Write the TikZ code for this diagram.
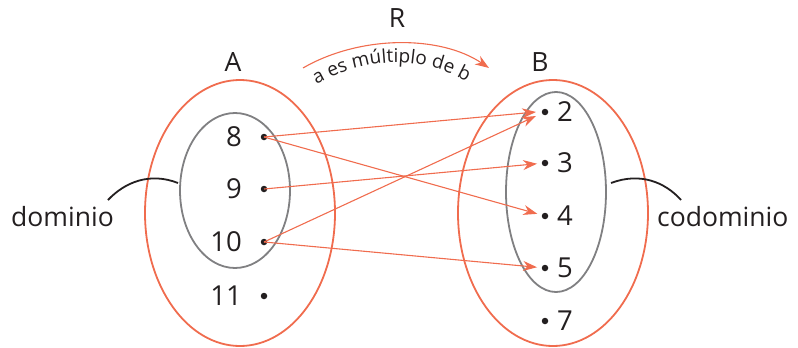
\documentclass[tikz,border=0pt]{standalone}
\usepackage{fontspec}
\setmainfont{Open Sans}
\usetikzlibrary{arrows.meta,decorations.text}
\definecolor{rorange}{RGB}{240,108,78}
\definecolor{rgray}{RGB}{128,128,130}
\definecolor{rtext}{RGB}{35,31,32}
\tikzset{
  setA/.style={draw=rorange,line width=1.8pt},
  subset/.style={draw=rgray,line width=1.8pt},
  pt/.style={circle,fill=rtext,inner sep=0pt,minimum size=6.5pt},
  num/.style={text=rtext,font=\fontsize{27.5}{27.5}\selectfont,inner sep=0pt},
  lbl/.style={text=rtext,font=\fontsize{26.5}{26.5}\selectfont,inner sep=0pt},
  rel/.style={draw=rorange,line width=1.1pt,-{Stealth[length=14pt,width=10pt]}},
  brace/.style={draw=rtext,line width=1.8pt}
}
\begin{document}
\begin{tikzpicture}[x=1pt,y=-1pt]
\useasboundingbox (0,0) rectangle (798,348);
% sets
\draw[setA] (240,213) ellipse [x radius=95, y radius=133];
\draw[subset] (235,190.5) ellipse [x radius=55, y radius=77.5];
\draw[setA] (553,213) ellipse [x radius=95, y radius=133];
\draw[subset] (556,192) ellipse [x radius=50, y radius=100];
% set names
\node[lbl] (nA) at (233,62) {A};
\node[lbl] (nB) at (540,62) {B};
\node[lbl] (nR) at (397,18) {R};
% domain points
\node[pt] (p8) at (264,137) {};
\node[pt] (p9) at (264,189) {};
\node[pt] (p10) at (264,242) {};
\node[pt] (p11) at (264,296) {};
\node[num,anchor=east] (l8) at (242,137) {8};
\node[num,anchor=east] (l9) at (242,189) {9};
\node[num,anchor=east] (l10) at (242,242) {10};
\node[num,anchor=east] (l11) at (242,296) {11};
% codomain points
\node[pt] (q2) at (545,112) {};
\node[pt] (q3) at (545,163) {};
\node[pt] (q4) at (545,216) {};
\node[pt] (q5) at (545,268) {};
\node[pt] (q7) at (545,321) {};
\node[num,anchor=west] (m2) at (557,112) {2};
\node[num,anchor=west] (m3) at (557,163) {3};
\node[num,anchor=west] (m4) at (557,216) {4};
\node[num,anchor=west] (m5) at (557,268) {5};
\node[num,anchor=west] (m7) at (557,321) {7};
% relation arrows
\coordinate (t2a) at (536,112);
\coordinate (t2b) at (536,116);
\draw[rel] (p8.center) -- (t2a);
\draw[rel] (p10.center) -- (t2b);
\draw[rel,shorten >=8pt] (p9.center) -- (q3.center);
\draw[rel,shorten >=8pt] (p8.center) -- (q4.center);
\draw[rel,shorten >=8pt] (p10.center) -- (q5.center);
% R arc
\coordinate (rs) at (303,68);
\coordinate (re) at (489,68);
\draw[rel] (rs) .. controls (360,35) and (440,35) .. (re);
\path[decorate,decoration={text along path,text align=center,
  text={|\fontsize{19}{19}\selectfont\color{rtext}|a es múltiplo de b}}]
  (307,90) .. controls (365,54) and (425,54) .. (476,87);
% dominio / codominio
\node[lbl,anchor=base west] (dom) at (11,226) {dominio};
\node[lbl,anchor=base west] (cod) at (657,226) {codominio};
\coordinate (d1) at (108,200);
\coordinate (d2) at (178,183);
\draw[brace] (d1) .. controls (125,182) and (150,172) .. (d2);
\coordinate (c1) at (611,183);
\coordinate (c2) at (681,200);
\draw[brace] (c1) .. controls (640,172) and (665,182) .. (c2);
\end{tikzpicture}
\end{document}
